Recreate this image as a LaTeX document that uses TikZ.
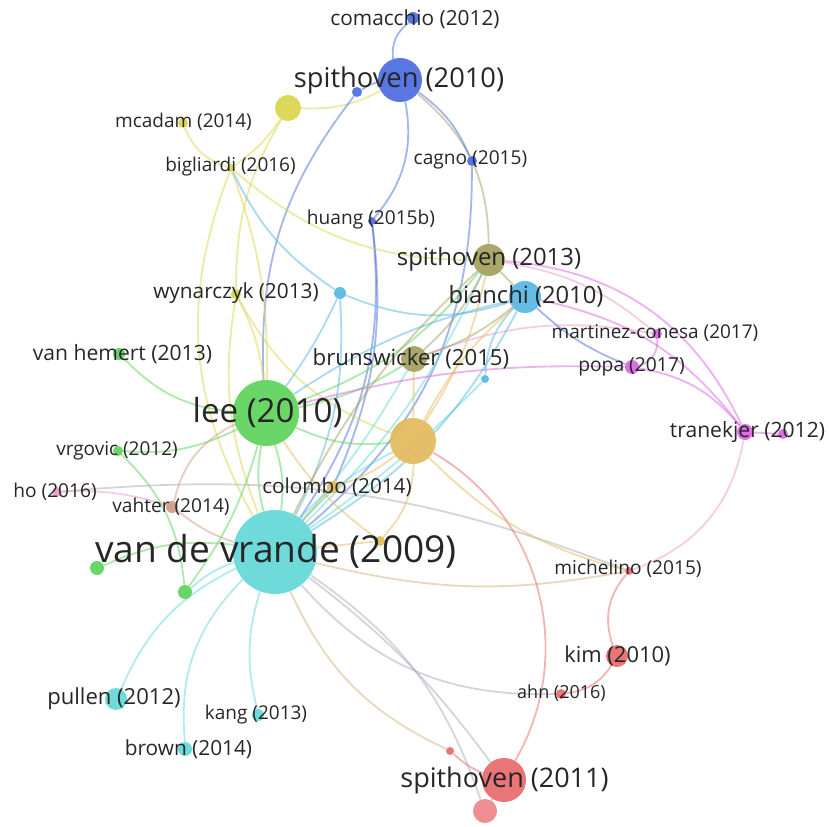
\documentclass[tikz,border=0pt]{standalone}
\usepackage{fontspec}
\setmainfont{Open Sans}
\usetikzlibrary{backgrounds}
\definecolor{vBlue}{HTML}{4A6BE0}
\definecolor{vYellow}{HTML}{D9D54C}
\definecolor{vOlive}{HTML}{A39F5E}
\definecolor{vLBlue}{HTML}{56B6E0}
\definecolor{vGreen}{HTML}{5CD35A}
\definecolor{vGold}{HTML}{E3B95B}
\definecolor{vCyan}{HTML}{63D7D7}
\definecolor{vMagenta}{HTML}{D964E0}
\definecolor{vRed}{HTML}{E8696B}
\definecolor{vRedL}{HTML}{EC8589}
\definecolor{vBrown}{HTML}{CF9A85}
\definecolor{vPink}{HTML}{E79CC7}
\definecolor{vGray}{HTML}{AEAAB8}
\definecolor{vTan}{HTML}{D6B27E}
\definecolor{vText}{HTML}{262626}
\tikzset{
  bub/.style={circle, inner sep=0pt, minimum size=#1*0.5mm, draw=none, fill opacity=.92},
  lab/.style={font=\fontsize{#1}{#1}\selectfont, text=vText, inner sep=0pt},
  link/.style={draw=#1, line width=1.3pt, draw opacity=.5}
}
\begin{document}
\begin{tikzpicture}[x=0.025cm, y=-0.025cm]
  \useasboundingbox (0,0) rectangle (829,827);
  % bubbles
  \node[bub=6, fill=vBlue] (comacchio) at (413,18) {};
  \node[bub=22, fill=vBlue] (sp10) at (400,80) {};
  \node[bub=5, fill=vBlue] (sbl) at (357,92) {};
  \node[bub=13, fill=vYellow] (yel) at (288,108) {};
  \node[bub=5, fill=vYellow] (mcadam) at (183,123) {};
  \node[bub=4, fill=vYellow] (bigliardi) at (231,168) {};
  \node[bub=5, fill=vBlue] (cagno) at (472,161) {};
  \node[bub=4, fill=vBlue] (huang) at (372,221) {};
  \node[bub=16, fill=vOlive] (sp13) at (489,260) {};
  \node[bub=5, fill=vYellow] (wynarczyk) at (236,294) {};
  \node[bub=6, fill=vLBlue] (cyA) at (340,293) {};
  \node[bub=16, fill=vLBlue] (bianchi) at (525,297) {};
  \node[bub=5, fill=vMagenta] (martinez) at (657,334) {};
  \node[bub=6, fill=vGreen] (vanhemert) at (119,354) {};
  \node[bub=13, fill=vOlive] (brunswicker) at (414,359) {};
  \node[bub=7, fill=vMagenta] (popa) at (632,367) {};
  \node[bub=4, fill=vLBlue] (cyB) at (485,379) {};
  \node[bub=33, fill=vGreen] (lee) at (266,413) {};
  \node[bub=23, fill=vGold] (gold) at (413,441) {};
  \node[bub=8, fill=vMagenta] (tranekjer) at (745,432) {};
  \node[bub=5, fill=vMagenta] (magS) at (783,434) {};
  \node[bub=5, fill=vGreen] (vrgovic) at (118,451) {};
  \node[bub=5, fill=vPink] (ho) at (57,492) {};
  \node[bub=6, fill=vGold] (colombo) at (333,487) {};
  \node[bub=6, fill=vBrown] (vahter) at (172,507) {};
  \node[bub=5, fill=vGold] (goldS) at (380,541) {};
  \node[bub=42, fill=vCyan] (vdv) at (275,552) {};
  \node[bub=7, fill=vGreen] (grA) at (97,568) {};
  \node[bub=7, fill=vGreen] (grB) at (185,592) {};
  \node[bub=4, fill=vRed] (michelino) at (629,571) {};
  \node[bub=11, fill=vRed] (kim) at (617,656) {};
  \node[bub=5, fill=vRed] (ahn) at (561,694) {};
  \node[bub=11, fill=vCyan] (pullen) at (116,699) {};
  \node[bub=6, fill=vCyan] (kang) at (258,715) {};
  \node[bub=7, fill=vCyan] (brown) at (185,749) {};
  \node[bub=4, fill=vRed] (redS) at (450,751) {};
  \node[bub=22, fill=vRed] (sp11) at (504,780) {};
  \node[bub=12, fill=vRedL] (redB) at (485,811) {};
  % links
  \begin{scope}[on background layer]
    \foreach \a/\b/\c/\s in {sp10/comacchio/vBlue/30, sp10/sp13/vOlive/25, sp10/cagno/vBlue/15,
      sp10/huang/vBlue/25, yel/sp10/vYellow/-15, sbl/sp10/vBlue/10, sbl/lee/vBlue/-20,
      cagno/vdv/vBlue/25, huang/vdv/vBlue/20, huang/colombo/vBlue/15,
      yel/bigliardi/vYellow/10, yel/wynarczyk/vYellow/-15, mcadam/bigliardi/vYellow/-25,
      bigliardi/vdv/vYellow/-25, bigliardi/lee/vYellow/10, bigliardi/sp13/vYellow/-20,
      bigliardi/cyA/vLBlue/-15, wynarczyk/lee/vYellow/10, wynarczyk/vdv/vYellow/-15,
      wynarczyk/gold/vYellow/-20,
      vanhemert/lee/vGreen/-20, lee/vdv/vGreen/12, lee/vdv/vGreen/-12, vrgovic/lee/vGreen/-15,
      vrgovic/grB/vGreen/20, grA/vdv/vGreen/15, grB/lee/vGreen/-10, grB/vdv/vCyan/10,
      lee/sp13/vGreen/-15, lee/brunswicker/vGreen/-10, lee/gold/vGreen/-15,
      pullen/vdv/vCyan/20, brown/vdv/vCyan/25, kang/vdv/vCyan/15,
      vdv/michelino/vTan/-12, vdv/ahn/vGray/-25, vdv/redB/vGray/18, vdv/sp11/vGray/8,
      vdv/redS/vTan/-20, vdv/sp13/vCyan/-10, vdv/brunswicker/vCyan/-5, vdv/gold/vCyan/10,
      vdv/colombo/vCyan/5, vdv/cyB/vCyan/-5,
      ho/vahter/vPink/10, ho/michelino/vGray/13, vahter/lee/vBrown/25, vahter/vdv/vBrown/-10,
      redS/sp11/vRed/-10, sp11/gold/vRed/-45, ahn/kim/vRed/-25, kim/michelino/vRed/30,
      michelino/tranekjer/vPink/-30, redB/sp11/vRed/0,
      tranekjer/sp13/vMagenta/-30, tranekjer/bianchi/vMagenta/-20, popa/tranekjer/vMagenta/20,
      tranekjer/magS/vMagenta/0, martinez/popa/vMagenta/40, popa/lee/vMagenta/-8,
      brunswicker/martinez/vPink/15, sp13/martinez/vPink/15, bianchi/popa/vBlue/-10,
      bianchi/sp13/vOlive/0, sp13/brunswicker/vOlive/10, brunswicker/bianchi/vOlive/-10,
      bianchi/cyB/vLBlue/-20, bianchi/vdv/vLBlue/15, bianchi/lee/vLBlue/-10,
      cyA/bianchi/vLBlue/-20, cyA/vdv/vLBlue/15, cyA/lee/vLBlue/5,
      gold/colombo/vGold/10, gold/goldS/vGold/20, gold/michelino/vGold/-15,
      gold/brunswicker/vGold/0, gold/sp13/vGold/-10, gold/bianchi/vGold/10,
      colombo/vdv/vGold/0, goldS/vdv/vGold/0, goldS/lee/vGold/10, sp13/vdv/vOlive/-10}
      \draw[link=\c] (\a) to[bend left=\s] (\b);
  \end{scope}
  % labels
  \node[lab=14.8] (comacchio-l) at (415,19) {comacchio (2012)};
  \node[lab=19.4] (sp10-l) at (399,80) {spithoven (2010)};
  \node[lab=13.5] (mcadam-l) at (183.5,122) {mcadam (2014)};
  \node[lab=13.5] (bigliardi-l) at (230.5,167) {bigliardi (2016)};
  \node[lab=13.6] (cagno-l) at (470.5,160) {cagno (2015)};
  \node[lab=13.6] (huang-l) at (371,220) {huang (2015b)};
  \node[lab=17] (sp13-l) at (489,259) {spithoven (2013)};
  \node[lab=14.8] (wynarczyk-l) at (236,293) {wynarczyk (2013)};
  \node[lab=16.9] (bianchi-l) at (526,296) {bianchi (2010)};
  \node[lab=13.5] (martinez-l) at (655,333) {martinez-conesa (2017)};
  \node[lab=15] (vanhemert-l) at (122.5,354) {van hemert (2013)};
  \node[lab=15.8] (brunswicker-l) at (411,359) {brunswicker (2015)};
  \node[lab=13.7] (popa-l) at (631.5,367) {popa (2017)};
  \node[lab=23.6] (lee-l) at (267.5,413) {lee (2010)};
  \node[lab=15] (tranekjer-l) at (747.5,432) {tranekjer (2012)};
  \node[lab=13.5] (vrgovic-l) at (117,451) {vrgovic (2012)};
  \node[lab=13.6] (ho-l) at (55,492) {ho (2016)};
  \node[lab=14.7] (colombo-l) at (337,487) {colombo (2014)};
  \node[lab=13.6] (vahter-l) at (171,507) {vahter (2014)};
  \node[lab=26.4] (vdv-l) at (276,551) {van de vrande (2009)};
  \node[lab=13.6] (michelino-l) at (628,569) {michelino (2015)};
  \node[lab=15.6] (kim-l) at (617.5,656) {kim (2010)};
  \node[lab=12.8] (ahn-l) at (561.5,693) {ahn (2016)};
  \node[lab=15.7] (pullen-l) at (114,699) {pullen (2012)};
  \node[lab=13.5] (kang-l) at (256,715) {kang (2013)};
  \node[lab=14.8] (brown-l) at (188.5,749) {brown (2014)};
  \node[lab=19.2] (sp11-l) at (504.5,780) {spithoven (2011)};
\end{tikzpicture}
\end{document}
